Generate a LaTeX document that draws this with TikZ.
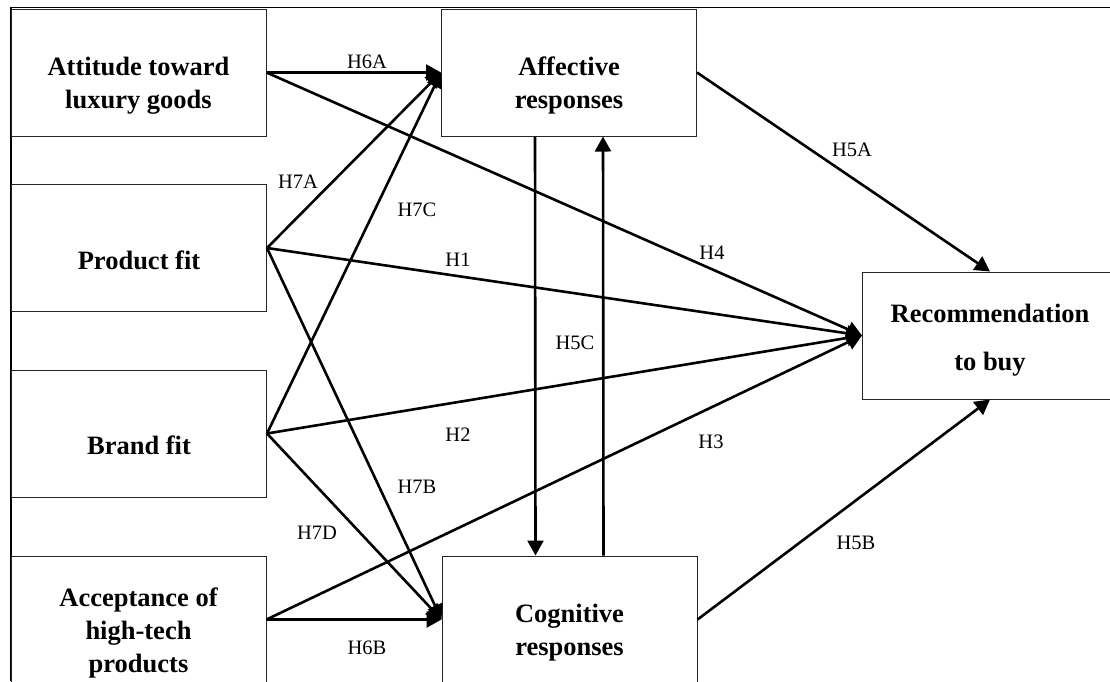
\documentclass[tikz,border=0pt]{standalone}
\usepackage{fontspec}
\setmainfont{Liberation Serif}
\usepackage{tikz}
\usetikzlibrary{positioning,arrows.meta}

\begin{document}
\begin{tikzpicture}[x=1pt,y=1pt]
\tikzstyle{every node}+=[inner sep=0pt]
\tikzstyle{box}=[draw=black!85, line width=1pt, minimum width=255pt, minimum height=127pt]
\tikzstyle{boxtext}=[align=center, font=\fontsize{26.5}{33}\selectfont\bfseries]
\tikzstyle{hyp}=[font=\fontsize{20.5}{24}\selectfont]
\tikzstyle{link}=[line width=2.6pt, -{Triangle[length=15pt,width=16pt]}]
\useasboundingbox (0,0) rectangle (1110,-681);
\draw [line width=1.5pt] (11,-681) -- (11,-7.5) -- (1110,-7.5);
% constructs
\node [box] (att) at (138.5,-72.5) {};
\node [boxtext] (atttxt) at ([yshift=-13pt]att.center) {Attitude toward\\luxury goods};
\node [box] (prod) at (139,-248) {};
\node [boxtext] (prodtxt) at ([yshift=-12pt]prod.center) {Product fit};
\node [box] (brand) at (139,-433.5) {};
\node [boxtext] (brandtxt) at ([yshift=-12pt]brand.center) {Brand fit};
\node [box] (acc) at (138.5,-619.5) {};
\node [boxtext] (acctxt) at ([yshift=-13pt]acc.center) {Acceptance of\\high-tech\\products};
\node [box] (aff) at (569,-72.5) {};
\node [boxtext] (afftxt) at ([yshift=-13pt]aff.center) {Affective\\responses};
\node [box] (cog) at (569.5,-619.5) {};
\node [boxtext] (cogtxt) at ([yshift=-13pt]cog.center) {Cognitive\\responses};
\node [box] (rec) at (990,-335.5) {};
\node [boxtext] (rectxt) at ([yshift=-5pt]rec.center) {Recommendation\\[15pt]to buy};
% hypotheses
\draw [link] (att.east) -- (aff.west);
\draw [link] (att.east) -- (rec.west);
\draw [link] (prod.east) -- (aff.west);
\draw [link] (prod.east) -- (rec.west);
\draw [link] (prod.east) -- (cog.west);
\draw [link] (brand.east) -- (aff.west);
\draw [link] (brand.east) -- (rec.west);
\draw [link] (brand.east) -- (cog.west);
\draw [link] (acc.east) -- (cog.west);
\draw [link] (acc.east) -- (rec.west);
\draw [link] (aff.east) -- (rec.north);
\draw [link] (cog.east) -- (rec.south);
\draw [link] ([xshift=-34pt]aff.south) -- ([xshift=-34pt]cog.north);
\draw [link] ([xshift=34pt]cog.north) -- ([xshift=34pt]aff.south);
% labels
\node [hyp] (h6a) at (367,-62) {H6A};
\node [hyp] (h7a) at (298,-182) {H7A};
\node [hyp] (h7c) at (417,-210) {H7C};
\node [hyp] (h1) at (458,-260) {H1};
\node [hyp] (h4) at (712,-253) {H4};
\node [hyp] (h5a) at (852,-150) {H5A};
\node [hyp] (h5c) at (575,-343) {H5C};
\node [hyp] (h2) at (458,-435) {H2};
\node [hyp] (h3) at (711,-442) {H3};
\node [hyp] (h7b) at (417,-487) {H7B};
\node [hyp] (h7d) at (317,-533) {H7D};
\node [hyp] (h5b) at (856,-543) {H5B};
\node [hyp] (h6b) at (367,-648) {H6B};
\end{tikzpicture}
\end{document}
